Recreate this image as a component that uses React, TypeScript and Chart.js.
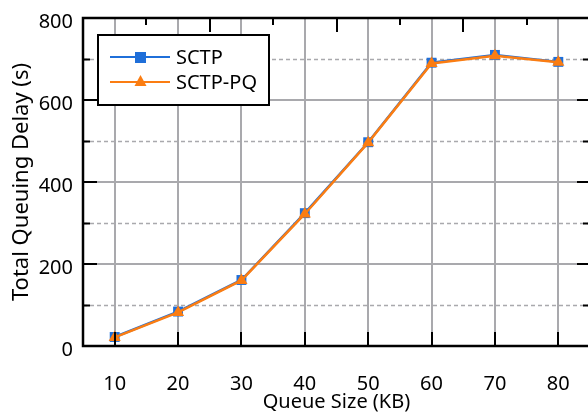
import React, { useEffect, useRef } from "react";
import { Chart, registerables } from "chart.js";

Chart.register(...registerables);

const queueSizes = [10, 20, 30, 40, 50, 60, 70, 80];
const sctp = [22, 84, 161, 324, 497, 691, 710, 693];
const sctpPq = [21, 82, 160, 322, 496, 689, 708, 692];
const yMajorTicks = [0, 200, 400, 600, 800];
const yMinorTicks = [100, 300, 500, 700];
const topMinorTicks = [15, 35, 55, 75];
const topMajorTicks = [25, 45, 65];
const seriesNames = ["SCTP", "SCTP-PQ"];

const BLUE = "#1f6fd9";
const ORANGE = "#fb7d12";
const GRID = "#a9a9ad";
const FONT = "'Noto Sans', sans-serif";

const framePlugin = {
  id: "frame",
  beforeDatasetsDraw(chart: any) {
    const { ctx, chartArea: a, scales } = chart;
    const x = scales.x, y = scales.y;
    ctx.save();
    ctx.strokeStyle = GRID;
    ctx.lineWidth = 1.5;
    ctx.setLineDash([4, 3]);
    yMinorTicks.forEach((v) => {
      const py = Math.round(y.getPixelForValue(v)) + 0.5;
      ctx.beginPath();
      ctx.moveTo(a.left, py);
      ctx.lineTo(a.right, py);
      ctx.stroke();
    });
    ctx.setLineDash([]);
    ctx.lineWidth = 2;
    yMajorTicks.forEach((v) => {
      const py = Math.round(y.getPixelForValue(v));
      ctx.beginPath();
      ctx.moveTo(a.left, py);
      ctx.lineTo(a.right, py);
      ctx.stroke();
    });
    queueSizes.forEach((v) => {
      const px = Math.round(x.getPixelForValue(v));
      ctx.beginPath();
      ctx.moveTo(px, a.top);
      ctx.lineTo(px, a.bottom);
      ctx.stroke();
    });
    ctx.restore();
  },
  afterDatasetsDraw(chart: any) {
    const { ctx, chartArea: a, scales } = chart;
    const x = scales.x, y = scales.y;
    ctx.save();
    ctx.strokeStyle = "#000";
    ctx.lineWidth = 2;
    const line = (x1: number, y1: number, x2: number, y2: number) => {
      ctx.beginPath();
      ctx.moveTo(x1, y1);
      ctx.lineTo(x2, y2);
      ctx.stroke();
    };
    yMajorTicks.forEach((v) => {
      const py = Math.round(y.getPixelForValue(v));
      line(a.left, py, a.left + 14, py);
      line(a.right, py, a.right - 13, py);
    });
    yMinorTicks.forEach((v) => {
      const py = Math.round(y.getPixelForValue(v)) + 0.5;
      line(a.left, py, a.left + 7, py);
      line(a.right, py, a.right - 7, py);
    });
    queueSizes.forEach((v) => {
      const px = Math.round(x.getPixelForValue(v));
      line(px, a.bottom, px, a.bottom - 14);
    });
    topMinorTicks.forEach((v) => {
      const px = Math.round(x.getPixelForValue(v));
      line(px, a.top, px, a.top + 7);
    });
    topMajorTicks.forEach((v) => {
      const px = Math.round(x.getPixelForValue(v));
      line(px, a.top, px, a.top + 14);
    });
    ctx.lineWidth = 2.5;
    ctx.strokeRect(a.left, a.top, a.right - a.left, a.bottom - a.top);
    ctx.restore();
  },
  afterDraw(chart: any) {
    const { ctx } = chart;
    ctx.save();
    const bx = 98, by = 35, bw = 171, bh = 70;
    ctx.fillStyle = "#fff";
    ctx.fillRect(bx, by, bw, bh);
    ctx.strokeStyle = "#000";
    ctx.lineWidth = 2;
    ctx.strokeRect(bx, by, bw, bh);
    const rows = [
      { label: seriesNames[0], color: BLUE, style: "rect", yy: 57 },
      { label: seriesNames[1], color: ORANGE, style: "triangle", yy: 82 },
    ];
    rows.forEach((r) => {
      ctx.strokeStyle = r.color;
      ctx.lineWidth = 2;
      ctx.beginPath();
      ctx.moveTo(110, r.yy);
      ctx.lineTo(170, r.yy);
      ctx.stroke();
      ctx.fillStyle = r.color;
      if (r.style === "rect") {
        ctx.fillRect(135, r.yy - 5, 11, 11);
      } else {
        ctx.beginPath();
        ctx.moveTo(140.5, r.yy - 7);
        ctx.lineTo(146.5, r.yy + 4);
        ctx.lineTo(134.5, r.yy + 4);
        ctx.closePath();
        ctx.fill();
      }
      ctx.fillStyle = "#000";
      ctx.font = `20px ${FONT}`;
      ctx.textBaseline = "middle";
      ctx.textAlign = "left";
      ctx.fillText(r.label, 176, r.yy + 1);
    });
    ctx.restore();
  },
};

export default function App() {
  const ref = useRef<HTMLCanvasElement>(null);
  useEffect(() => {
    document.body.style.margin = "0";
    document.body.style.overflow = "hidden";
    const chart = new Chart(ref.current!, {
      type: "line",
      data: {
        datasets: [
          {
            label: seriesNames[0],
            data: queueSizes.map((q, i) => ({ x: q, y: sctp[i] })),
            borderColor: BLUE,
            backgroundColor: BLUE,
            borderWidth: 2.5,
            pointStyle: "rect",
            pointRadius: 7,
            pointBorderWidth: 0,
            order: 2,
          },
          {
            label: seriesNames[1],
            data: queueSizes.map((q, i) => ({ x: q, y: sctpPq[i] })),
            borderColor: ORANGE,
            backgroundColor: ORANGE,
            borderWidth: 2.5,
            pointStyle: "triangle",
            pointRadius: 7,
            pointBorderWidth: 0,
            order: 1,
          },
        ],
      },
      options: {
        animation: false,
        responsive: false,
        devicePixelRatio: 1,
        layout: { padding: { top: 18, right: 10, left: 0, bottom: 0 } },
        plugins: { legend: { display: false }, tooltip: { enabled: false } },
        scales: {
          x: {
            type: "linear",
            min: 5,
            max: 85,
            afterBuildTicks: (s: any) => {
              s.ticks = queueSizes.map((v) => ({ value: v }));
            },
            afterFit: (s: any) => {
              s.height = 68;
              s.paddingLeft = 0;
              s.paddingRight = 0;
            },
            grid: { display: false, drawTicks: false },
            border: { display: false },
            ticks: {
              padding: 26,
              color: "#000",
              font: { family: FONT, size: 20 },
              maxRotation: 0,
              autoSkip: false,
            },
            title: {
              display: true,
              text: "Queue Size (KB)",
              color: "#000",
              font: { family: FONT, size: 20 },
              padding: { top: 0, bottom: 0 },
            },
          },
          y: {
            min: 0,
            max: 800,
            afterBuildTicks: (s: any) => {
              s.ticks = yMajorTicks.map((v) => ({ value: v }));
            },
            afterFit: (s: any) => {
              s.width = 83;
              s.paddingTop = 0;
              s.paddingBottom = 0;
            },
            grid: { display: false, drawTicks: false },
            border: { display: false },
            ticks: {
              padding: 10,
              labelOffset: 4,
              color: "#000",
              font: { family: FONT, size: 20 },
            },
            title: {
              display: true,
              text: "Total Queuing Delay (s)",
              color: "#000",
              font: { family: FONT, size: 22 },
              padding: { top: 9, bottom: 0 },
            },
          },
        },
      },
      plugins: [framePlugin],
    } as any);
    return () => chart.destroy();
  }, []);
  return (
    <div style={{ position: "fixed", left: 0, top: 0, width: 600, height: 414 }}>
      <canvas ref={ref} width={600} height={414} />
    </div>
  );
}
